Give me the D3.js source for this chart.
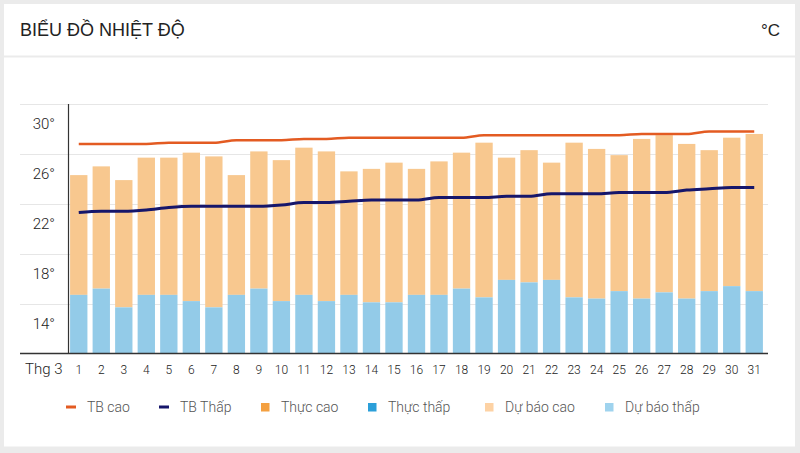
<!DOCTYPE html>
<html>
<head>
<meta charset="utf-8">
<script src="https://cdn.jsdelivr.net/npm/d3@7/dist/d3.min.js"></script>
<style>
  html, body { margin: 0; padding: 0; background: #ebebeb; }
  svg { display: block; }
</style>
</head>
<body>
<svg id="chart" width="800" height="453"></svg>
<script>
// ---- Data ----
const days = d3.range(1, 32).map(String);
const monthLabel = "Thg 3";
const tbCao = [26.8,26.8,26.8,26.8,26.9,26.9,26.9,27.1,27.1,27.1,27.2,27.2,27.3,27.3,27.3,27.3,27.3,27.3,27.5,27.5,27.5,27.5,27.5,27.5,27.5,27.6,27.6,27.6,27.8,27.8,27.8];
const tbThap = [21.3,21.4,21.4,21.5,21.7,21.8,21.8,21.8,21.8,21.9,22.1,22.1,22.2,22.3,22.3,22.3,22.5,22.5,22.5,22.6,22.6,22.8,22.8,22.8,22.9,22.9,22.9,23.1,23.2,23.3,23.3];
const duBaoCao = [24.3,25.0,23.9,25.7,25.7,26.1,25.8,24.3,26.2,25.5,26.5,26.2,24.6,24.8,25.3,24.8,25.4,26.1,26.9,25.7,26.3,25.3,26.9,26.4,25.9,27.2,27.5,26.8,26.3,27.3,27.6];
const duBaoThap = [14.7,15.2,13.7,14.7,14.7,14.2,13.7,14.7,15.2,14.2,14.7,14.2,14.7,14.1,14.1,14.7,14.7,15.2,14.5,15.9,15.7,15.9,14.5,14.4,15.0,14.4,14.9,14.4,15.0,15.4,15.0];
const yTicks = [30, 26, 22, 18, 14];
const legendItems = [
  {name: "TB cao", type: "line", color: "#e35b22"},
  {name: "TB Thấp", type: "line", color: "#16166b"},
  {name: "Thực cao", type: "rect", color: "#f4a040"},
  {name: "Thực thấp", type: "rect", color: "#2b9fd9"},
  {name: "Dự báo cao", type: "rect", color: "#fdd2a4"},
  {name: "Dự báo thấp", type: "rect", color: "#9fd3ee"}
];
const legendX = [66, 159, 261, 368, 485, 605];

// ---- Layout ----
const svg = d3.select("#chart");
const plotLeft = 67.5, plotRight = 765.5, plotTop = 104, plotBottom = 353.5;

// cards
svg.append("rect").attr("x", 4).attr("y", 4).attr("width", 791).attr("height", 51.5).attr("fill", "#fff");
svg.append("rect").attr("x", 4).attr("y", 57.5).attr("width", 791).attr("height", 389).attr("fill", "#fff");

svg.append("text").attr("x", 20).attr("y", 36)
  .attr("font-family", "'Liberation Sans', Arial, sans-serif").attr("font-size", 18)
  .attr("fill", "#222").text("BIỂU ĐỒ NHIỆT ĐỘ");
svg.append("text").attr("x", 780).attr("y", 36).attr("text-anchor", "end")
  .attr("font-family", "'Liberation Sans', Arial, sans-serif").attr("font-size", 17)
  .attr("fill", "#222").text("°C");

const x = d3.scaleBand().domain(days).range([plotLeft, plotRight])
  .paddingInner(0.23).paddingOuter(0.115);
const y = d3.scaleLinear().domain([10, 30]).range([plotBottom, plotTop]);

// gridlines
const gridVals = [30, 26, 22, 18, 14];
svg.append("g").selectAll("line").data(gridVals).join("line")
  .attr("x1", 20).attr("x2", 768)
  .attr("y1", d => Math.round(y(d)) + 0.5).attr("y2", d => Math.round(y(d)) + 0.5)
  .attr("stroke", "#e6e6e6").attr("stroke-width", 1);

// bars
svg.append("g").selectAll("rect").data(days).join("rect")
  .attr("x", d => x(d)).attr("width", x.bandwidth())
  .attr("y", (d, i) => y(duBaoCao[i]))
  .attr("height", (d, i) => y(duBaoThap[i]) - y(duBaoCao[i]))
  .attr("fill", "#f8c88f");
svg.append("g").selectAll("rect").data(days).join("rect")
  .attr("x", d => x(d)).attr("width", x.bandwidth())
  .attr("y", (d, i) => y(duBaoThap[i]))
  .attr("height", (d, i) => plotBottom - y(duBaoThap[i]))
  .attr("fill", "#93cbe8");

// lines
const line = d3.line().x((v, i) => x(days[i]) + x.bandwidth() / 2).y(v => y(v)).curve(d3.curveMonotoneX);
svg.append("path").datum(tbCao).attr("d", line).attr("fill", "none")
  .attr("stroke", "#e35b22").attr("stroke-width", 2.5);
svg.append("path").datum(tbThap).attr("d", line).attr("fill", "none")
  .attr("stroke", "#16166b").attr("stroke-width", 3);

// axes lines
svg.append("line").attr("x1", 68.5).attr("x2", 68.5).attr("y1", plotTop).attr("y2", plotBottom)
  .attr("stroke", "#333").attr("stroke-width", 1.2);
svg.append("line").attr("x1", 20).attr("x2", 768).attr("y1", plotBottom).attr("y2", plotBottom)
  .attr("stroke", "#333").attr("stroke-width", 1.5);

// y labels (placed below their gridline)
svg.append("g").selectAll("text").data(yTicks).join("text")
  .attr("x", 55).attr("y", d => y(d) + 20).attr("dy", "0.35em")
  .attr("text-anchor", "end")
  .attr("font-family", "Roboto, sans-serif").attr("font-weight", 300).attr("font-size", 15)
  .attr("fill", "#222").text(d => d + "°");

// x labels
const xAxis = d3.axisBottom(x).tickSize(0).tickPadding(0);
const gx = svg.append("g").attr("transform", `translate(0,${plotBottom})`).call(xAxis);
gx.select(".domain").remove();
gx.selectAll("text").attr("y", 16).attr("dy", "0.35em")
  .attr("font-family", "Roboto, sans-serif").attr("font-weight", 300).attr("font-size", 12)
  .attr("fill", "#222");
svg.append("text").attr("x", 25).attr("y", 369).attr("dy", "0.35em")
  .attr("font-family", "Roboto, sans-serif").attr("font-weight", 300).attr("font-size", 15)
  .attr("fill", "#222").text(monthLabel);

// legend
const lg = svg.append("g").selectAll("g").data(legendItems).join("g")
  .attr("transform", (d, i) => `translate(${legendX[i]},407)`);
lg.filter(d => d.type === "line").append("rect")
  .attr("x", 0).attr("y", -1.5).attr("width", 10).attr("height", 3).attr("fill", d => d.color);
lg.filter(d => d.type === "rect").append("rect")
  .attr("x", 0).attr("y", -4).attr("width", 8.5).attr("height", 8.5).attr("fill", d => d.color);
lg.append("text").attr("x", (d) => d.type === "line" ? 21 : 20).attr("y", 0).attr("dy", "0.35em")
  .attr("font-family", "Roboto, sans-serif").attr("font-weight", 300).attr("font-size", 14)
  .attr("fill", "#555").text(d => d.name);
</script>
</body>
</html>
